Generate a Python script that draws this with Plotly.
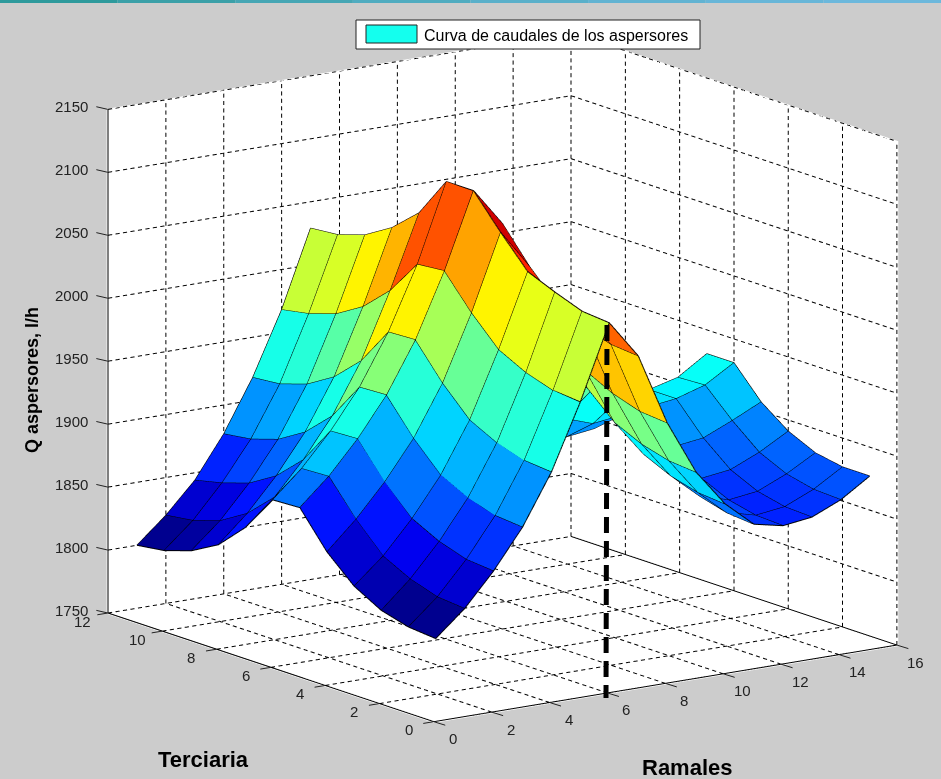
import plotly.graph_objects as go

ramales = list(range(1, 17))
terciaria = list(range(1, 13))
q_y01 = [1805,1825,1851,1882,1922,1974,2033,2003,1946,1903,1874,1854,1849,1852,1862,1877]
q_y02 = [1807,1827,1853,1884,1924,1976,2035,2005,1948,1905,1876,1856,1850,1853,1863,1877]
q_y03 = [1813,1834,1860,1891,1931,1983,2043,2012,1955,1911,1882,1862,1855,1858,1868,1881]
q_y04 = [1825,1845,1871,1902,1942,1994,2052,2023,1966,1921,1892,1872,1865,1868,1878,1891]
q_y05 = [1845,1867,1893,1924,1964,2016,2076,2045,1988,1941,1912,1892,1883,1886,1896,1907]
q_y06 = [1873,1894,1920,1951,1991,2042,2102,2072,2015,1966,1937,1917,1907,1910,1917,1931]
q_y07 = [1872,1893,1919,1950,1990,2040,2102,2071,2014,1966,1937,1917,1907,1910,1916,1931]
q_y08 = [1843,1863,1889,1920,1960,2012,2070,2041,1984,1937,1908,1888,1880,1883,1893,1905]
q_y09 = [1822,1843,1869,1900,1940,1992,2051,2021,1964,1919,1890,1870,1862,1865,1875,1887]
q_y10 = [1810,1830,1856,1887,1927,1979,2038,2008,1951,1907,1878,1858,1852,1855,1865,1879]
q_y11 = [1803,1823,1849,1880,1920,1972,2031,2001,1944,1901,1872,1852,1846,1849,1859,1874]
q_y12 = [1800,1820,1844,1877,1918,1968,2029,1998,1941,1898,1869,1849,1844,1847,1857,1871]
caudales = [q_y01,q_y02,q_y03,q_y04,q_y05,q_y06,q_y07,q_y08,q_y09,q_y10,q_y11,q_y12]
x_ticks = list(range(0, 17, 2))
y_ticks = list(range(0, 13, 2))
z_ticks = list(range(1750, 2151, 50))
X_MAX, Y_MAX, Z_MIN, Z_MAX = 16, 12, 1750, 2150
FONT = "Liberation Sans"

def jet(v):
    v = round(v * 63) / 63
    def ch(c):
        return max(0.0, min(1.0, 1.5 - abs(4 * v - c)))
    return "rgb(%d,%d,%d)" % (255 * ch(3), 255 * ch(2), 255 * ch(1))

nx, ny = len(ramales), len(terciaria)
vx, vy, vz = [], [], []
for r, row in zip(terciaria, caudales):
    for c, val in zip(ramales, row):
        vx.append(c); vy.append(r); vz.append(val)
zlo, zhi = min(vz), max(vz)
I, J, K, FC = [], [], [], []
for r in range(ny - 1):
    for c in range(nx - 1):
        a = r * nx + c
        b, d, e = a + 1, a + nx, a + nx + 1
        col = jet((vz[a] - zlo) / (zhi - zlo))
        I += [a, a]; J += [b, e]; K += [e, d]; FC += [col, col]

fig = go.Figure()
fig.add_trace(go.Mesh3d(x=vx, y=vy, z=vz, i=I, j=J, k=K, facecolor=FC, flatshading=True,
                        lighting=dict(ambient=1, diffuse=0, specular=0, fresnel=0, roughness=1),
                        hoverinfo="skip", showscale=False))

# mesh edges
lx, ly, lz = [], [], []
for row, r in zip(caudales, terciaria):
    lx += ramales + [None]; ly += [r] * nx + [None]; lz += row + [None]
for i, c in enumerate(ramales):
    lx += [c] * ny + [None]; ly += terciaria + [None]; lz += [row[i] for row in caudales] + [None]
fig.add_trace(go.Scatter3d(x=lx, y=ly, z=lz, mode="lines", line=dict(color="black", width=2),
                           hoverinfo="skip", showlegend=False, connectgaps=False))

# dashed grid on walls, cut into short pieces
gx, gy, gz = [], [], []
def seg(a, b, n):
    for m in range(n):
        f0, f1 = m / n, (m + 0.55) / n
        for f in (f0, f1):
            gx.append(a[0] + (b[0] - a[0]) * f)
            gy.append(a[1] + (b[1] - a[1]) * f)
            gz.append(a[2] + (b[2] - a[2]) * f)
        gx.append(None); gy.append(None); gz.append(None)
NX, NY, NZ = 62, 46, 68
for t in x_ticks:
    seg((t, 0, Z_MIN), (t, Y_MAX, Z_MIN), NY); seg((t, Y_MAX, Z_MIN), (t, Y_MAX, Z_MAX), NZ)
for t in y_ticks:
    seg((0, t, Z_MIN), (X_MAX, t, Z_MIN), NX); seg((X_MAX, t, Z_MIN), (X_MAX, t, Z_MAX), NZ)
for t in z_ticks:
    seg((0, Y_MAX, t), (X_MAX, Y_MAX, t), NX); seg((X_MAX, Y_MAX, t), (X_MAX, 0, t), NY)
fig.add_trace(go.Scatter3d(x=gx, y=gy, z=gz, mode="lines", line=dict(color="black", width=2),
                           hoverinfo="skip", showlegend=False, connectgaps=False))

# solid box edges that carry the ticks
fig.add_trace(go.Scatter3d(
    x=[0, 0, None, 0, X_MAX, None, 0, 0],
    y=[0, Y_MAX, None, 0, 0, None, Y_MAX, Y_MAX],
    z=[Z_MIN, Z_MIN, None, Z_MIN, Z_MIN, None, Z_MIN, Z_MAX],
    mode="lines", line=dict(color="black", width=2), hoverinfo="skip", showlegend=False, connectgaps=False))

def axis(rng, ticks):
    return dict(range=rng, tickvals=ticks, title=dict(text=""), showgrid=False, zeroline=False,
                showline=False, ticks="", showticklabels=False,
                showbackground=True, backgroundcolor="white", showspikes=False, mirror=False)

def tick_note(v, x, y, z, dx, dy, anchor):
    return dict(text=str(v), x=x, y=y, z=z, showarrow=False, xanchor=anchor, yanchor="middle",
                xshift=dx, yshift=dy, font=dict(family=FONT, size=15, color="#222"))

def tick_mark(x, y, z, ax, ay):
    return dict(text=" ", x=x, y=y, z=z, showarrow=True, arrowhead=0, arrowwidth=1, arrowcolor="#222",
                standoff=0, startstandoff=0, ax=ax, ay=ay, font=dict(size=1))

scene_notes = ([tick_note(t, t, 0, Z_MIN, 19, -17, "center") for t in x_ticks]
               + [tick_note(t, 0, t, Z_MIN, -25, -8, "center") for t in y_ticks]
               + [tick_note(t, 0, Y_MAX, t, -18, 3, "right") for t in z_ticks]
               + [tick_mark(t, 0, Z_MIN, 13, 4) for t in x_ticks]
               + [tick_mark(0, t, Z_MIN, -12, 2) for t in y_ticks]
               + [tick_mark(0, Y_MAX, t, -13, -3) for t in z_ticks])

shapes = []
band = ["#2e9a9c", "#3ba0a8", "#46a6b4", "#50acc0", "#5ab0ca", "#62b3d2", "#68b6d8", "#6cb8dc"]
for n, col in enumerate(band):
    shapes.append(dict(type="rect", xref="paper", yref="paper", x0=n / 8, x1=(n + 1) / 8,
                       y0=1 - 3 / 779, y1=1, fillcolor=col, line=dict(width=0)))
def px(x): return x / 941
def py(y): return 1 - y / 779
shapes.append(dict(type="rect", xref="paper", yref="paper", x0=px(356), x1=px(700), y0=py(49), y1=py(20),
                   fillcolor="white", line=dict(color="#222", width=1)))
shapes.append(dict(type="rect", xref="paper", yref="paper", x0=px(366), x1=px(417), y0=py(43), y1=py(25),
                   fillcolor="#14ffee", line=dict(color="#222", width=1)))
shapes.append(dict(type="line", xref="paper", yref="paper", x0=px(607), x1=px(606), y0=py(325), y1=py(698),
                   line=dict(color="black", width=5, dash="16px,8px")))

def note(text, x, y, size, bold=False, angle=0, anchor="center"):
    return dict(text=("<b>%s</b>" % text) if bold else text, xref="paper", yref="paper", x=px(x), y=py(y),
                showarrow=False, xanchor=anchor, yanchor="middle", textangle=angle,
                font=dict(family=FONT, size=size, color="black"))

fig.update_layout(
    width=941, height=779, autosize=False, showlegend=False,
    paper_bgcolor="#cccccc", margin=dict(l=0, r=0, t=0, b=0),
    scene=dict(
        domain=dict(x=[0.0678, 1], y=[0.0308, 1]),
        xaxis=axis([0, X_MAX + 0.05], x_ticks), yaxis=axis([0, Y_MAX + 0.05], y_ticks),
        zaxis=axis([Z_MIN - 1, Z_MAX], z_ticks),
        aspectmode="manual", aspectratio=dict(x=1.505, y=1.505, z=1.376),
        camera=dict(projection=dict(type="orthographic"), eye=dict(x=-1.12, y=-1.59, z=0.47),
                    up=dict(x=0, y=0, z=1), center=dict(x=0, y=0, z=0)),
        annotations=scene_notes,
    ),
    shapes=shapes,
    annotations=[
        note("Curva de caudales de los aspersores", 422, 35, 16, anchor="left"),
        note("Q aspersores, l/h", 32, 380, 18, bold=True, angle=-90),
        note("Terciaria", 203, 759, 22, bold=True),
        note("Ramales", 687, 767, 22, bold=True),
    ],
)
fig.write_html("out.html", config=dict(displayModeBar=False),
               post_script="document.body.style.margin='0';document.body.style.background='#cccccc';")
